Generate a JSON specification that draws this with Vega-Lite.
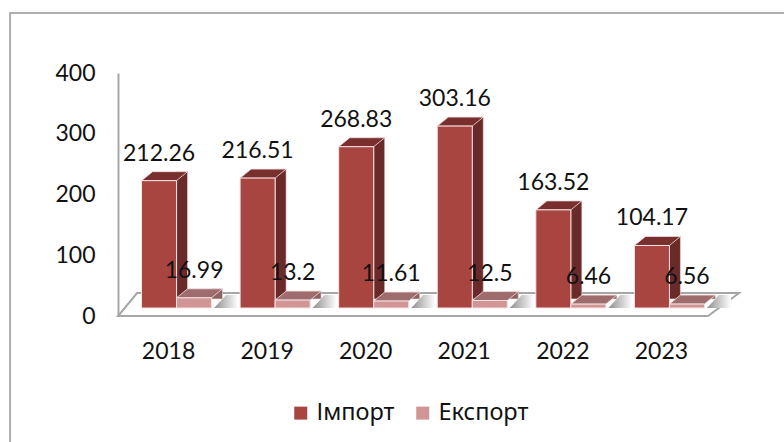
{
"$schema":"https://vega.github.io/schema/vega-lite/v6.json",
"width":610,"height":243,
"autosize":{"type":"none"},
"padding":{"left":118,"top":73,"right":56,"bottom":126},
"background":"white",
"config":{"view":{"stroke":null},"text":{"font":"Lato"},"axis":{"labelFont":"Lato"},"legend":{"labelFont":"Noto Sans"}},
"datasets":{"d":[
{"year":"2018","series":"Імпорт","value":212.26},
{"year":"2018","series":"Експорт","value":16.99},
{"year":"2019","series":"Імпорт","value":216.51},
{"year":"2019","series":"Експорт","value":13.2},
{"year":"2020","series":"Імпорт","value":268.83},
{"year":"2020","series":"Експорт","value":11.61},
{"year":"2021","series":"Імпорт","value":303.16},
{"year":"2021","series":"Експорт","value":12.5},
{"year":"2022","series":"Імпорт","value":163.52},
{"year":"2022","series":"Експорт","value":6.46},
{"year":"2023","series":"Імпорт","value":104.17},
{"year":"2023","series":"Експорт","value":6.56}
],"anchor":[{"year":"2018","v":0}]},
"resolve":{"scale":{"y":"independent"}},
"layer":[
{"data":{"name":"anchor"},
 "encoding":{
  "x":{"field":"year","type":"nominal","sort":["2018","2019","2020","2021","2022","2023"],"scale":{"paddingInner":0,"paddingOuter":0.094},
   "axis":{"title":null,"domain":false,"ticks":false,"labelAngle":0,"labelFontSize":23,"labelColor":"#111","labelPadding":24,"labelOffset":-8}},
  "y":{"field":"v","type":"quantitative","scale":{"domain":[0,400],"nice":false,"zero":false},
   "axis":{"orient":"left","title":null,"values":[0,100,200,300,400],"grid":false,"ticks":false,"domainColor":"#a6a6a6","domainWidth":2,"labelFontSize":23,"labelColor":"#111","labelPadding":23}}
 },
 "layer":[
  {"mark":{"type":"point","filled":false,"size":4,"stroke":"#8c8c8c","strokeWidth":2,"shape":"M-166.5,135 L-166.5,-303 L620,-303"}},
  {"mark":{"type":"point","filled":true,"opacity":1,"size":4,"fill":"#ffffff","stroke":"#a6a6a6","strokeWidth":2,"shape":"M-58.5,0 L531.5,0 L562.5,-23 L-39.5,-23 Z"}}
 ]},
{"data":{"name":"d"},
 "encoding":{
  "x":{"field":"year","type":"nominal","sort":["2018","2019","2020","2021","2022","2023"]},
  "y":{"field":"value","type":"quantitative","scale":{"domain":[-13.333,391.667],"nice":false,"zero":false},"axis":null}
 },
 "layer":[
  {"transform":[{"filter":"datum.series==='Імпорт'"}],
   "mark":{"type":"bar","width":11,"xOffset":5.5,"yOffset":-9,"y2Offset":0,"fill":"#6b2a2a","stroke":"#f3dfdf","strokeWidth":0.6}},
  {"transform":[{"filter":"datum.series==='Експорт'"}],
   "mark":{"type":"bar","width":11,"xOffset":40.5,"yOffset":-9,"y2Offset":0,"fill":"#8d6262","stroke":"#f3dfdf","strokeWidth":0.6}},
  {"transform":[{"filter":"datum.series==='Експорт'"}],
   "mark":{"type":"point","filled":true,"opacity":1,"size":4,"fill":"#ffffff","strokeWidth":0,"shape":"M17.2,0.5 L29.5,0.5 L29.5,-9.4 Z"},
   "encoding":{"xOffset":{"field":"series","type":"nominal","sort":["Імпорт","Експорт"],"scale":{"paddingInner":0,"paddingOuter":0.407}},"y":{"datum":0}}},
  {"transform":[{"filter":"datum.series==='Експорт'"}],
   "mark":{"type":"point","filled":true,"opacity":1,"size":4,"strokeWidth":0,
    "fill":{"gradient":"linear","x1":0,"y1":0,"x2":1,"y2":0,"stops":[{"offset":0,"color":"#8f8f8f"},{"offset":1,"color":"#ffffff"}]},
    "shape":"M20,0 L44,0 L44,-13 L32,-13 Z"},
   "encoding":{"xOffset":{"field":"series","type":"nominal","sort":["Імпорт","Експорт"]},"y":{"datum":0}}},
  {"transform":[{"filter":"datum.series==='Імпорт'"}],
   "mark":{"type":"point","filled":true,"opacity":1,"size":4,"fill":"#7a2f2f","stroke":"#f3dfdf","strokeWidth":0.8,"shape":"M-17.5,0 L17.5,0 L28.5,-9 L-6.5,-9 Z"},
   "encoding":{"xOffset":{"field":"series","type":"nominal","sort":["Імпорт","Експорт"]}}},
  {"transform":[{"filter":"datum.series==='Експорт'"}],
   "mark":{"type":"point","filled":true,"opacity":1,"size":4,"fill":"#9e6c6c","stroke":"#f3dfdf","strokeWidth":0.8,"shape":"M-17.5,0 L17.5,0 L28.5,-9 L-6.5,-9 Z"},
   "encoding":{"xOffset":{"field":"series","type":"nominal","sort":["Імпорт","Експорт"]}}},
  {"mark":{"type":"bar","stroke":"#f5e3e3","strokeWidth":1},
   "encoding":{"xOffset":{"field":"series","type":"nominal","sort":["Імпорт","Експорт"]},
    "color":{"field":"series","type":"nominal","sort":["Імпорт","Експорт"],
     "scale":{"domain":["Імпорт","Експорт"],"range":["#a94541","#d29595"]},
     "legend":{"title":null,"orient":"none","legendX":171,"legendY":328,"direction":"horizontal","columns":2,"symbolType":"square","symbolSize":169,"symbolStrokeWidth":0,"labelFontSize":23.5,"labelColor":"#111","columnPadding":16,"labelOffset":4,"symbolOpacity":1}}}},
  {"mark":{"type":"text","fontSize":23,"dy":-27,"baseline":"middle","color":"#111"},
   "encoding":{"xOffset":{"field":"series","type":"nominal","sort":["Імпорт","Експорт"]},"text":{"field":"value","type":"quantitative"}}}
 ]}
]}
